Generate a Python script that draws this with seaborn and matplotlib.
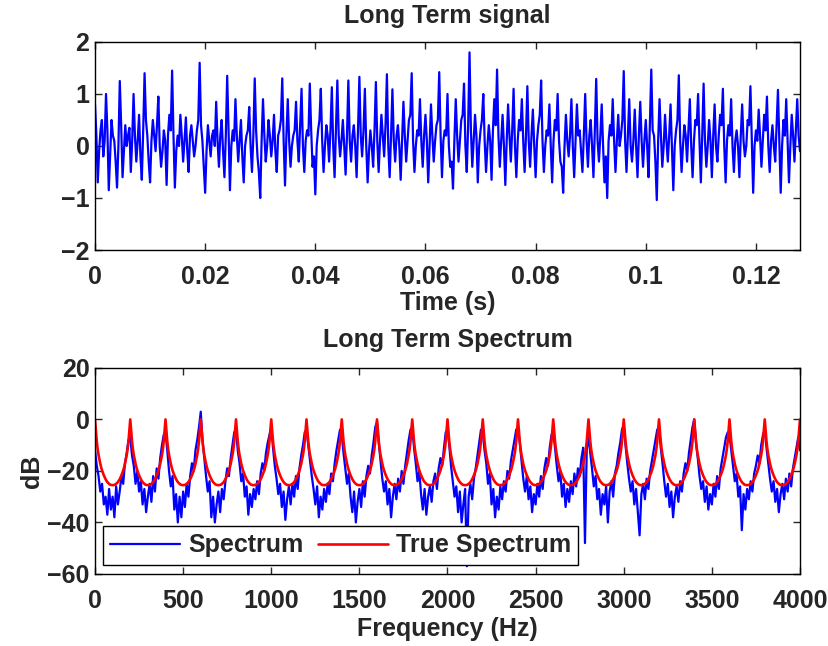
import numpy as np
import pandas as pd
import matplotlib
matplotlib.use("Agg")
import matplotlib.pyplot as plt
import seaborn as sns

# ---------------- data ----------------
signal_dt = 0.00025  # seconds between listed samples
signal_values = [
    0.8, 0.2, -0.7, -0.1, 0.3, 0.5, -0.2, 0.1, 1.0, 0.3, -0.85, -0.2, 0.5, 0.2, 0.1, -0.3, -0.8, 0.0, 1.25, 0.4,
    -0.6, -0.1, 0.4, 0.0, 0.2, 0.35, -0.5, 0.1, 1.0, 0.2, -0.3, 0.1, 0.6, -0.2, -0.65, 0.3, 1.4, 0.5, 0.2, -0.3,
    -0.7, 0.1, 0.5, 0.2, -0.1, 0.4, 0.95, 0.0, -0.4, -0.1, 0.3, 0.1, -0.75, 0.2, 0.6, 0.3, 1.45, 0.2, -0.8, -0.1,
    0.2, 0.0, 0.6, 0.2, -0.3, 0.1, 0.55, -0.1, -0.5, 0.2, 0.4, 0.1, -0.2, 0.0, 0.3, 0.5, 1.6, 0.4, 0.1, -0.4,
    -0.9, -0.1, 0.4, 0.1, -0.2, 0.2, 0.3, 0.0, 0.85, 0.1, -0.4, 0.2, 0.5, -0.1, -0.6, 0.2, 1.35, 0.3, -0.85, 0.0,
    0.3, 0.1, 0.9, 0.2, -0.3, 0.1, 0.5, -0.2, -0.7, 0.0, 0.2, 0.3, 0.75, 0.0, -0.5, 0.2, 1.3, 0.3, -0.2, -0.5,
    -1.0, 0.1, 0.9, 0.2, -0.3, 0.0, 0.5, 0.2, -0.2, 0.1, 0.6, -0.1, -0.5, 0.2, 0.3, 0.5, 1.3, 0.1, -0.76, 0.2,
    0.9, 0.1, -0.4, 0.0, 0.2, 0.3, 0.85, 0.1, -0.3, 0.4, 1.1, 0.0, -0.5, 0.1, 0.3, 0.2, 1.2, 0.3, -0.4, -0.2,
    -0.93, 0.0, 0.3, 0.5, 1.1, 0.1, -0.5, 0.0, 0.4, 0.2, -0.3, 0.3, 1.13, 0.0, -0.6, 0.3, 1.26, 0.2, -0.2, 0.1,
    0.5, 0.0, -0.55, 0.2, 1.26, 0.1, -0.3, 0.2, 0.4, 0.0, -0.6, 0.3, 1.33, 0.2, -0.2, 0.3, 1.1, 0.0, -0.7, -0.1,
    0.3, 0.0, -0.4, 0.3, 1.23, 0.1, -0.5, 0.1, 0.6, 0.2, -0.2, 0.4, 1.38, 0.0, -0.6, 0.2, 1.09, 0.1, -0.3, 0.2,
    0.4, 0.0, -0.65, 0.1, 0.85, 0.2, -0.3, 0.1, 0.5, 0.6, 1.4, 0.1, -0.5, 0.0, 0.3, 0.2, 0.9, 0.1, -0.4, 0.2,
    0.6, 0.1, -0.7, 0.0, 0.8, 0.2, -0.3, 0.1, 0.4, 0.5, 1.42, 0.2, -0.6, 0.1, 0.3, 0.2, 1.0, 0.0, -0.4, -0.3,
    -0.82, 0.1, 0.9, 0.2, -0.3, 0.1, 0.5, 0.6, 1.2, 0.0, -0.5, 0.4, 1.8, 0.3, -0.4, 0.1, 0.6, 0.2, -0.7, 0.0,
    0.3, 0.5, 1.0, 0.1, -0.5, 0.0, 0.4, 0.1, -0.65, 0.3, 0.9, 0.4, 1.47, 0.2, -0.4, 0.1, 0.6, 0.0, -0.75, 0.1,
    0.8, 0.2, -0.3, 0.3, 1.1, 0.0, -0.6, 0.1, 0.5, 0.3, 0.9, 0.1, -0.5, 0.2, 1.15, 0.1, -0.4, 0.2, 0.7, 0.0,
    -0.6, 0.1, 0.4, 0.6, 1.26, 0.1, -0.5, 0.0, 0.3, 0.2, 0.8, 0.0, -0.7, 0.1, 0.5, 0.3, 1.0, 0.1, -0.3, -0.4,
    -0.9, 0.0, 0.6, 0.1, -0.2, 0.2, 0.9, 0.0, -0.6, 0.1, 0.8, 0.2, 0.3, -0.1, -0.5, 0.2, 1.0, 0.1, -0.4, 0.2,
    0.5, 0.0, -0.6, 0.3, 1.29, 0.1, -0.3, 0.2, 0.8, 0.0, -0.7, -0.2, -1.0, 0.1, 0.4, 0.2, 0.9, 0.1, -0.5, 0.1,
    0.6, 0.0, 0.2, 0.5, 1.44, 0.1, -0.5, 0.2, 0.9, 0.0, -0.3, 0.1, 0.7, 0.0, -0.6, 0.2, 0.85, 0.1, -0.4, 0.1,
    0.5, 0.0, -0.6, 0.4, 1.47, 0.3, 0.2, -0.3, -1.04, 0.1, 0.9, 0.2, -0.4, 0.0, 0.6, 0.1, -0.3, 0.2, 0.8, 0.0,
    -0.85, 0.0, 0.3, 0.5, 1.36, 0.1, -0.5, 0.0, 0.4, 0.2, -0.3, 0.3, 0.9, 0.0, -0.6, 0.1, 0.5, 0.4, 1.0, 0.1,
    -0.7, 0.2, 1.2, 0.1, -0.4, 0.0, 0.5, 0.1, -0.6, 0.2, 0.8, 0.0, -0.3, 0.2, 0.6, 0.4, 1.1, 0.0, -0.7, 0.1,
    0.4, 0.2, 0.9, 0.0, -0.5, 0.1, 0.3, 0.0, -0.6, 0.2, 0.8, 0.1, -0.2, 0.0, 0.5, 0.4, 1.15, 0.1, -0.9, 0.0,
    0.3, 0.1, 0.7, 0.2, -0.4, 0.1, 0.6, 0.3, 0.95, 0.0, -0.5, 0.1, 0.4, 0.0, -0.3, 0.4, 1.08, 0.1, -0.9, 0.0,
    0.5, 0.2, 0.9, 0.1, -0.7, 0.0, 0.6, 0.2, -0.3, 0.3, 0.9, 0.2, -0.1,
]

spec_step_hz = 10  # Hz between listed spectrum values
spectrum_db = [
    -12, -18, -22, -28, -25, -33, -30, -37, -27, -35, -30, -38, -26, -33, -28, -22, -25, -17, -13, -8,
    -7, -14, -18, -25, -20, -28, -24, -33, -27, -36, -30, -25, -32, -22, -28, -19, -23, -15, -10, -6,
    -5, -12, -20, -26, -22, -35, -29, -40, -30, -38, -28, -34, -25, -30, -22, -17, -20, -12, -8, -3,
    3, -8, -15, -22, -28, -24, -38, -30, -40, -33, -28, -36, -27, -31, -24, -19, -22, -15, -10, -5,
    -4, -12, -17, -24, -21, -30, -26, -37, -29, -34, -27, -31, -24, -29, -21, -17, -20, -13, -9, -6,
    -3, -11, -18, -23, -29, -25, -34, -28, -39, -31, -26, -33, -25, -30, -22, -27, -19, -14, -10, -5,
    -4, -10, -16, -22, -27, -33, -26, -38, -30, -35, -27, -32, -25, -29, -21, -24, -17, -12, -8, -4,
    -6, -13, -19, -25, -21, -30, -36, -28, -40, -32, -27, -34, -24, -30, -22, -18, -21, -14, -9, -3,
    -1, -9, -16, -23, -28, -24, -33, -27, -38, -30, -25, -31, -23, -28, -20, -25, -18, -13, -8, -4,
    -3, -11, -17, -24, -20, -29, -35, -27, -37, -30, -26, -32, -24, -21, -27, -19, -15, -18, -11, -5,
    -4, -10, -18, -24, -30, -26, -36, -28, -40, -33, -27, -57, -30, -25, -31, -23, -19, -14, -9, -4,
    -5, -12, -17, -25, -21, -33, -27, -38, -30, -35, -26, -31, -24, -28, -20, -23, -16, -12, -8, -4,
    -3, -9, -16, -23, -28, -22, -31, -26, -36, -29, -33, -25, -30, -22, -27, -19, -15, -18, -11, -6,
    -5, -11, -18, -24, -20, -30, -25, -34, -27, -32, -24, -29, -21, -26, -19, -22, -15, -11, -48, -12,
    -6, -13, -19, -26, -22, -31, -27, -37, -29, -33, -26, -40, -28, -24, -30, -21, -18, -13, -9, -4,
    -2, -10, -17, -23, -28, -24, -33, -27, -36, -45, -29, -25, -31, -23, -27, -20, -16, -12, -8, -4,
    -3, -11, -17, -24, -30, -25, -34, -28, -38, -30, -26, -32, -24, -28, -21, -17, -20, -13, -8, -3,
    0, -9, -15, -22, -27, -24, -32, -26, -35, -29, -33, -25, -30, -22, -27, -19, -15, -11, -7, -5,
    -6, -12, -18, -24, -21, -30, -26, -43, -29, -35, -27, -31, -24, -28, -21, -18, -14, -17, -10, -6,
    -4, -11, -17, -23, -28, -24, -32, -27, -36, -29, -25, -31, -23, -28, -21, -26, -19, -15, -11, -7,
    -12,
]

# true spectrum: one 200 Hz period (5 Hz steps), repeating
true_period_db = [
    0, -4.5, -8.5, -11.5, -13.8, -15.6, -17.2, -18.6, -19.8, -20.8,
    -21.7, -22.5, -23.2, -23.8, -24.3, -24.7, -25.0, -25.3, -25.4, -25.5,
    -25.5, -25.5, -25.4, -25.3, -25.0, -24.7, -24.3, -23.8, -23.2, -22.5,
    -21.7, -20.8, -19.8, -18.6, -17.2, -15.6, -13.8, -11.5, -8.5, -4.5,
]
true_step_hz = 5
n_periods = 20

time_ticks = [0, 0.02, 0.04, 0.06, 0.08, 0.1, 0.12]
time_tick_labels = ["0", "0.02", "0.04", "0.06", "0.08", "0.1", "0.12"]
freq_ticks = [0, 500, 1000, 1500, 2000, 2500, 3000, 3500, 4000]
db_ticks = [-60, -40, -20, 0, 20]
sig_ticks = [-2, -1, 0, 1, 2]

# ---------------- tables ----------------
sig_df = pd.DataFrame({
    "t": np.arange(len(signal_values)) * signal_dt,
    "v": signal_values,
})
spec_df = pd.DataFrame({
    "f": np.arange(len(spectrum_db)) * spec_step_hz,
    "db": spectrum_db,
})
true_vals = list(np.tile(true_period_db, n_periods)) + [true_period_db[0]]
true_df = pd.DataFrame({
    "f": np.arange(len(true_vals)) * true_step_hz,
    "db": true_vals,
})

# ---------------- style ----------------
sns.set_style("ticks")
plt.rcParams['font.family'] = ['Liberation Sans', 'DejaVu Sans']
plt.rcParams['font.weight'] = 'bold'
plt.rcParams['axes.labelweight'] = 'bold'
plt.rcParams['axes.titleweight'] = 'bold'

FS = 18
fig = plt.figure(figsize=(8.29, 6.46), dpi=100)
ax1 = fig.add_axes([0.1146, 0.613, 0.8504, 0.322])
ax2 = fig.add_axes([0.1146, 0.1115, 0.8504, 0.319])

sns.lineplot(data=sig_df, x="t", y="v", ax=ax1, color="#0000FF", lw=1.6,
             estimator=None, sort=False)
sns.lineplot(data=spec_df, x="f", y="db", ax=ax2, color="#0000FF", lw=1.6,
             estimator=None, sort=False, label="Spectrum")
sns.lineplot(data=true_df, x="f", y="db", ax=ax2, color="#FF0000", lw=1.9,
             estimator=None, sort=False, label="True Spectrum")

for ax in (ax1, ax2):
    ax.tick_params(direction="in", top=True, right=True, length=5, width=1,
                   labelsize=FS)
    ax.tick_params(axis="x", pad=11)
    ax.tick_params(axis="y", pad=4)
    for s in ax.spines.values():
        s.set_linewidth(1.0)
        s.set_color("black")

ax1.set_xlim(0, 0.128)
ax1.set_ylim(-2, 2)
ax1.set_xticks(time_ticks)
ax1.set_xticklabels(time_tick_labels, fontweight="bold", fontsize=FS)
ax1.set_yticks(sig_ticks)
ax1.set_yticklabels([f"{v}".replace("-", "\u2212") for v in sig_ticks],
                    fontweight="bold", fontsize=FS)
ax1.set_xlabel("Time (s)", fontsize=FS, fontweight="bold", labelpad=1)
ax1.set_ylabel("")
ax1.set_title("Long Term signal", fontsize=FS, fontweight="bold", pad=14)

ax2.set_xlim(0, 4000)
ax2.set_ylim(-60, 20)
ax2.set_xticks(freq_ticks)
ax2.set_xticklabels([str(v) for v in freq_ticks], fontweight="bold", fontsize=FS)
ax2.set_yticks(db_ticks)
ax2.set_yticklabels([f"{v}".replace("-", "\u2212") for v in db_ticks],
                    fontweight="bold", fontsize=FS)
ax2.set_xlabel("Frequency (Hz)", fontsize=FS, fontweight="bold", labelpad=3)
ax2.set_ylabel("dB", fontsize=FS, fontweight="bold", labelpad=2)
ax2.set_title("Long Term Spectrum", fontsize=FS, fontweight="bold", pad=15)

leg = ax2.legend(loc="lower left", ncol=2, fontsize=FS, frameon=True,
                 fancybox=False, edgecolor="black", framealpha=1,
                 handlelength=2.8, columnspacing=0.6, handletextpad=0.3,
                 borderpad=0.3, borderaxespad=0,
                 bbox_to_anchor=(0.0113, 0.044))
leg.get_frame().set_linewidth(1.0)
for txt in leg.get_texts():
    txt.set_fontweight("bold")

fig.savefig("out.png", dpi=100)
